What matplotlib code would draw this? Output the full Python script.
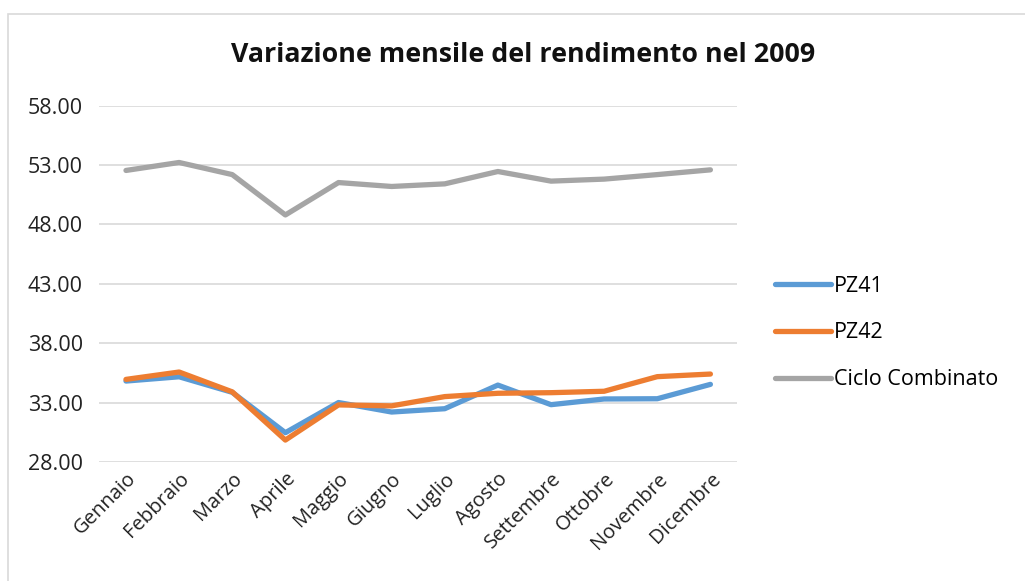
import matplotlib
matplotlib.use('Agg')
import matplotlib.pyplot as plt
from matplotlib.patches import Rectangle

mesi = ['Gennaio', 'Febbraio', 'Marzo', 'Aprile', 'Maggio', 'Giugno',
        'Luglio', 'Agosto', 'Settembre', 'Ottobre', 'Novembre', 'Dicembre']
pz41 = [34.81, 35.17, 33.86, 30.46, 33.00, 32.20, 32.48, 34.47, 32.82, 33.30, 33.32, 34.53]
pz42 = [34.95, 35.57, 33.90, 29.84, 32.80, 32.72, 33.50, 33.78, 33.83, 33.95, 35.18, 35.40]
ciclo = [52.55, 53.22, 52.20, 48.80, 51.53, 51.20, 51.42, 52.46, 51.65, 51.82, 52.20, 52.60]
yticks = [28, 33, 38, 43, 48, 53, 58]

plt.rcParams['font.family'] = ['Open Sans', 'DejaVu Sans']

fig = plt.figure(figsize=(10.25, 5.81), dpi=100, facecolor='white')
ax = fig.add_axes([0.097, 0.205, 0.622, 0.613])

x = range(len(mesi))
ax.plot(x, pz41, color='#5B9BD5', lw=3.8, label='PZ41', solid_capstyle='round', zorder=3)
ax.plot(x, pz42, color='#ED7D31', lw=3.8, label='PZ42', solid_capstyle='round', zorder=4)
ax.plot(x, ciclo, color='#A5A5A5', lw=3.8, label='Ciclo Combinato', solid_capstyle='round', zorder=3)

ax.set_xlim(-0.5, len(mesi) - 0.5)
ax.set_ylim(28, 58)
ax.set_yticks(yticks)
ax.set_yticklabels([f'{v:.2f}' for v in yticks], fontsize=15.5, color='#222222')
ax.set_xticks(list(x))
ax.set_xticklabels(mesi, rotation=45, ha='right', rotation_mode='anchor',
                   fontsize=14.5, color='#222222')
ax.tick_params(axis='both', length=0)
ax.tick_params(axis='y', pad=12)
ax.tick_params(axis='x', pad=5)
ax.grid(axis='y', color='#D9D9D9', lw=1.2)
ax.set_axisbelow(True)
for s in ax.spines.values():
    s.set_visible(False)

fig.text(0.51, 0.905, 'Variazione mensile del rendimento nel 2009',
         ha='center', va='center', fontsize=19.3, fontweight='bold', color='#111111')

leg = ax.legend(loc='center left', bbox_to_anchor=(1.03, 0.362), frameon=False,
                fontsize=15.5, handlelength=2.6, handletextpad=0.1, labelspacing=1.2)

fig.patches.append(Rectangle((8 / 1025, -0.01), 1.02, 1 - 14 / 581 + 0.01,
                             transform=fig.transFigure, fill=False,
                             edgecolor='#D9D9D9', lw=1.2))

fig.savefig('out.png', dpi=100, facecolor='white')
